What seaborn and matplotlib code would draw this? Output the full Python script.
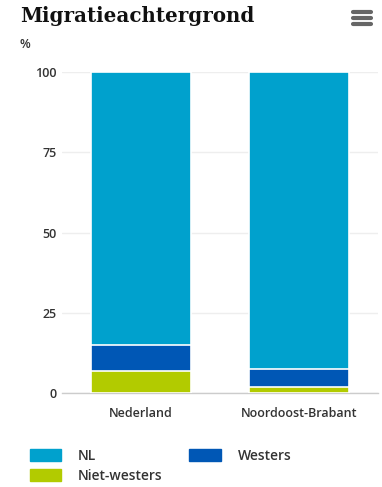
import matplotlib
matplotlib.use("Agg")
import matplotlib.pyplot as plt
import matplotlib.patches as mpatches
import matplotlib.lines as mlines
import seaborn as sns
import pandas as pd

categories = ["Nederland", "Noordoost-Brabant"]
nl = [85.0, 92.5]
westers = [8.2, 5.5]
niet_westers = [6.8, 2.0]
series_names = ["NL", "Westers", "Niet-westers"]
colors = {"NL": "#00a1cd", "Westers": "#0057b5", "Niet-westers": "#b2cb00"}
yticks = [0, 25, 50, 75, 100]

sns.set_style("white")
plt.rcParams["font.family"] = ["Open Sans", "DejaVu Sans"]

fig = plt.figure(figsize=(3.82, 4.87), dpi=100)
ax = fig.add_axes([62/382, (487-393)/487, (378-62)/382, (393-72)/487])

df = pd.DataFrame({"cat": categories, "NL": nl, "Westers": westers, "Niet-westers": niet_westers})
df["top_nl"] = df["NL"] + df["Westers"] + df["Niet-westers"]
df["top_w"] = df["Westers"] + df["Niet-westers"]
df["top_nw"] = df["Niet-westers"]

for col, name in [("top_nl", "NL"), ("top_w", "Westers"), ("top_nw", "Niet-westers")]:
    sns.barplot(data=df, x="cat", y=col, color=colors[name], width=0.63,
                edgecolor="white", linewidth=1.2, saturation=1, ax=ax, zorder=3)

ax.set_xlim(-0.5, 1.5)
ax.set_ylim(0, 100)
ax.set_yticks(yticks)
ax.set_yticklabels([str(t) for t in yticks], fontsize=9, fontweight="semibold", color="#333333")
ax.tick_params(axis="x", labelsize=9, colors="#333333", length=0, pad=10)
ax.tick_params(axis="y", length=0, pad=4)
for lab in ax.get_xticklabels():
    lab.set_fontweight("semibold")
ax.set_xlabel("")
ax.set_ylabel("")
ax.yaxis.grid(True, color="#eeeeee", linewidth=1, zorder=0)
ax.set_axisbelow(True)
for s in ["top", "right", "left"]:
    ax.spines[s].set_visible(False)
ax.spines["bottom"].set_color("#cccccc")
ax.spines["bottom"].set_linewidth(1)

fig.text(20/382, 1-16/487, "Migratieachtergrond", fontsize=14.3, fontweight="bold",
         family="DejaVu Serif", color="#111111", va="center", ha="left")
fig.text(20/382, 1-45/487, "%", fontsize=9, fontweight="semibold", color="#333333",
         va="center", ha="left")

# hamburger menu icon
for yy in [12, 18, 24]:
    fig.add_artist(mlines.Line2D([353/382, 371/382], [1-yy/487, 1-yy/487],
                                 color="#666666", linewidth=3, solid_capstyle="round"))

handles = [mpatches.Patch(color=colors["NL"], label="NL"),
           mpatches.Patch(color=colors["Niet-westers"], label="Niet-westers"),
           mpatches.Patch(color=colors["Westers"], label="Westers")]
leg = fig.legend(handles=handles, ncol=2, loc="upper left", bbox_to_anchor=(17/382, 1-436/487),
                 frameon=False, fontsize=10, handlelength=2.3, handleheight=1.0,
                 columnspacing=1.9, labelspacing=0.45, handletextpad=1.2)
for t in leg.get_texts():
    t.set_fontweight("semibold")
    t.set_color("#333333")

fig.savefig("out.png", dpi=100)
